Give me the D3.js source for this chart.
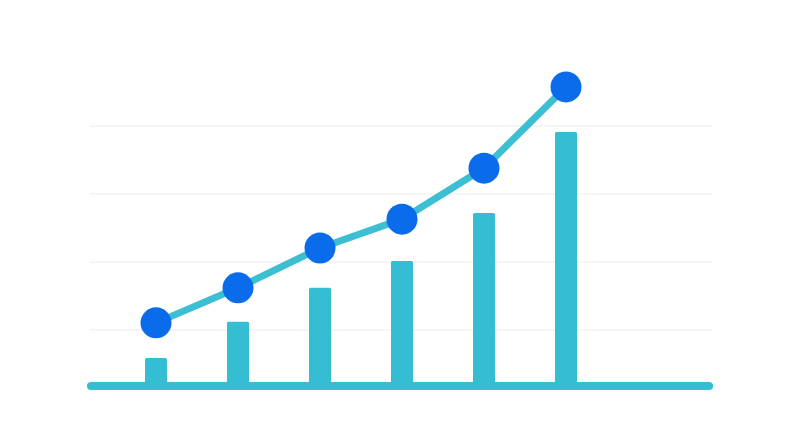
<!DOCTYPE html>
<html>
<head>
<meta charset="utf-8">
<script src="https://cdn.jsdelivr.net/npm/d3@7"></script>
<style>
  html, body { margin: 0; padding: 0; background: #ffffff; }
</style>
</head>
<body>
<div id="chart"></div>
<script>
// Data
var categories = ["A", "B", "C", "D", "E", "F"];
var barValues = [11.8, 22.4, 32.4, 40.3, 54.4, 78.2];
var lineValues = [22.1, 32.4, 44.1, 52.6, 67.6, 91.5];
var gridValues = [20, 40, 60, 80];
var baseValue = 3.5;

var svgWidth = 800;
var svgHeight = 448;

var svg = d3.select("#chart")
    .append("svg")
    .attr("width", svgWidth)
    .attr("height", svgHeight);

// Scales
var xScale = d3.scalePoint().domain(categories).range([156, 566]);
var yScale = d3.scaleLinear().domain([0, 100]).range([398, 58]);

// Faint gridlines
svg.selectAll(".grid")
    .data(gridValues)
    .enter()
    .append("line")
    .attr("class", "grid")
    .attr("x1", 90)
    .attr("x2", 712)
    .attr("y1", d => yScale(d))
    .attr("y2", d => yScale(d))
    .attr("stroke", "#f1f3f6")
    .attr("stroke-width", 1.5);

// Bars
var barWidth = 22;
svg.selectAll(".bar")
    .data(barValues)
    .enter()
    .append("rect")
    .attr("class", "bar")
    .attr("x", (d, i) => xScale(categories[i]) - barWidth / 2)
    .attr("y", d => yScale(d))
    .attr("width", barWidth)
    .attr("height", d => yScale(baseValue) - yScale(d))
    .attr("rx", 1.5)
    .attr("fill", "#34bdd3");

// Baseline
svg.append("line")
    .attr("x1", 91)
    .attr("x2", 709)
    .attr("y1", yScale(baseValue))
    .attr("y2", yScale(baseValue))
    .attr("stroke", "#34bdd3")
    .attr("stroke-width", 8)
    .attr("stroke-linecap", "round");

// Line
var line = d3.line()
    .x((d, i) => xScale(categories[i]))
    .y(d => yScale(d));

svg.append("path")
    .datum(lineValues)
    .attr("d", line)
    .attr("fill", "none")
    .attr("stroke", "#3cbfd2")
    .attr("stroke-width", 7)
    .attr("stroke-linejoin", "round");

// Points
svg.selectAll(".dot")
    .data(lineValues)
    .enter()
    .append("circle")
    .attr("class", "dot")
    .attr("cx", (d, i) => xScale(categories[i]))
    .attr("cy", d => yScale(d))
    .attr("r", 15.5)
    .attr("fill", "#0a6ceb");
</script>
</body>
</html>
